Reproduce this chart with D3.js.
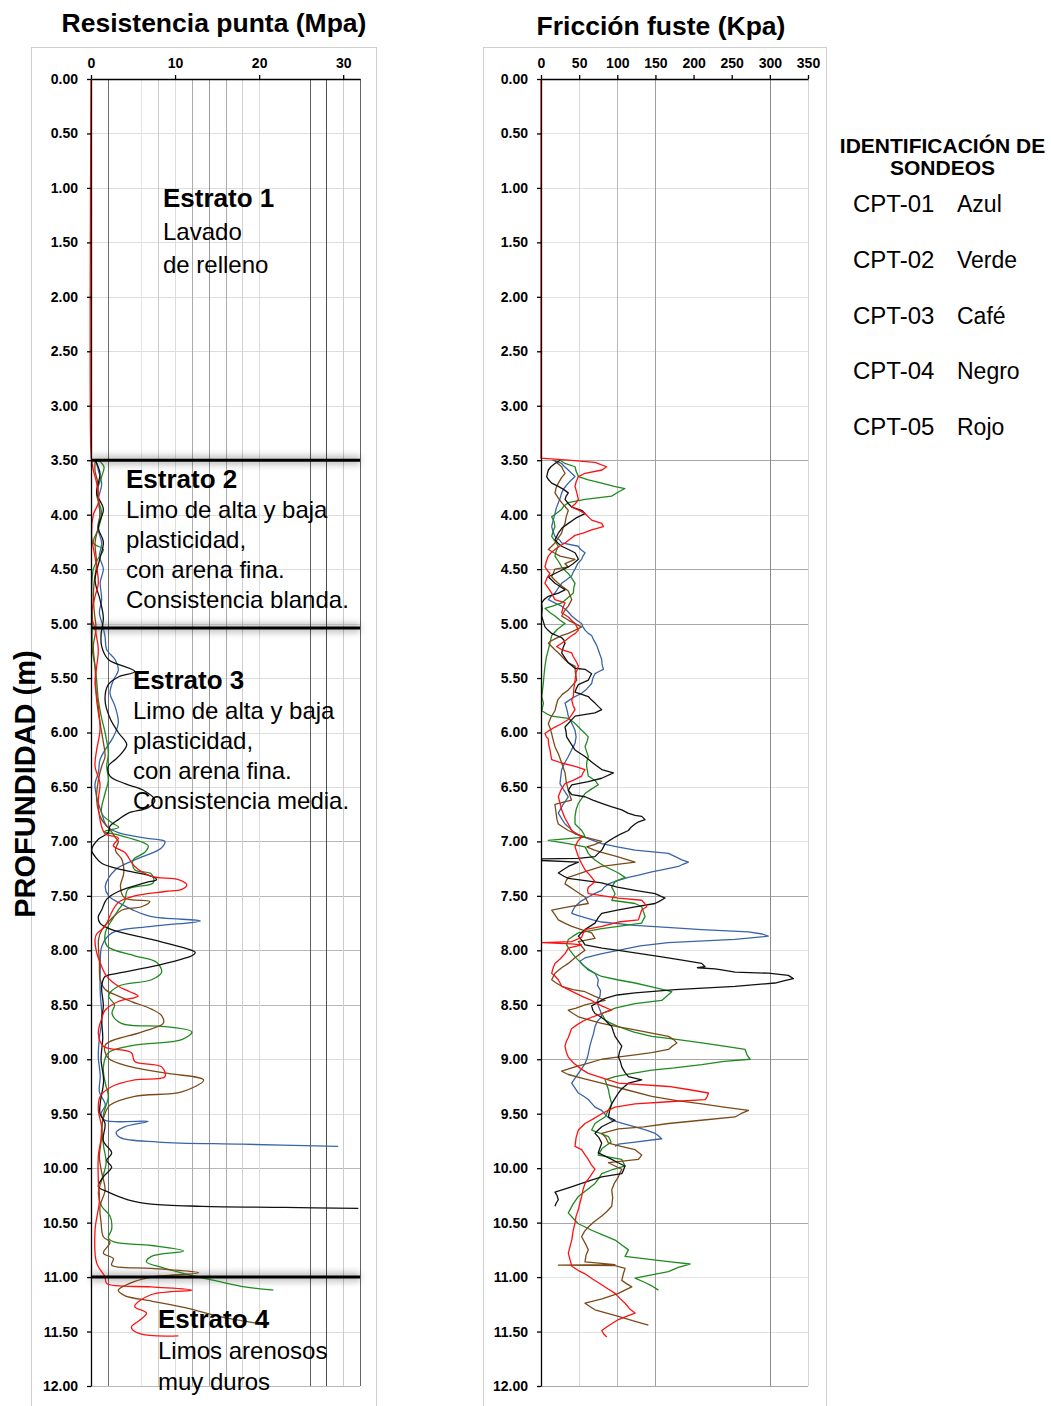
<!DOCTYPE html>
<html>
<head>
<meta charset="utf-8">
<script src="https://cdn.jsdelivr.net/npm/d3@7"></script>
<style>
  html, body { margin: 0; padding: 0; background: #fff; }
  svg { display: block; font-family: "Liberation Sans", Arial, Helvetica, sans-serif; }
</style>
</head>
<body>
<svg id="chart" width="1051" height="1406"></svg>
<script>
// ---------------- data ----------------
// depth ticks (m) and value-axis ticks
const depthTicks = d3.range(0, 12.001, 0.5);
const qcTicks = [0, 10, 20, 30];
const fsTicks = [0, 50, 100, 150, 200, 250, 300, 350];

// soundings and their colour names
const sondeos = ["CPT-01", "CPT-02", "CPT-03", "CPT-04", "CPT-05"];
const nombresColor = ["Azul", "Verde", "Café", "Negro", "Rojo"];

// stratum boundaries (m) and descriptions
const limitesEstrato = [3.5, 5.04, 11.0];
const titulosEstrato = ["Estrato 1", "Estrato 2", "Estrato 3", "Estrato 4"];
const textosEstrato = [
  ["Lavado", "de relleno"],
  ["Limo de alta y baja", "plasticidad,", "con arena fina.", "Consistencia blanda."],
  ["Limo de alta y baja", "plasticidad,", "con arena fina.", "Consistencia media."],
  ["Limos arenosos", "muy duros"]
];

// cone tip resistance qc (MPa) : [depth m, value]
const qcAzul = [[3.50,0.6],[3.60,0.9],[3.72,1.27],[3.85,0.9],[4.00,1.07],[4.12,0.8],[4.26,1.27],[4.38,1.0],[4.50,1.47],[4.62,1.1],[4.78,1.27],[4.90,1.0],[5.02,1.4],[5.12,1.67],[5.24,1.87],[5.33,2.86],[5.43,3.25],[5.52,2.66],[5.64,2.26],[5.76,2.86],[5.91,3.25],[6.04,2.66],[6.16,1.67],[6.25,1.07],[6.37,0.87],[6.47,0.48],[6.59,0.67],[6.74,1.27],[6.86,1.87],[6.92,3.25],[6.97,6.5],[7.00,8.8],[7.04,8.6],[7.08,8.0],[7.17,5.2],[7.26,2.9],[7.41,1.7],[7.50,2.1],[7.56,3.25],[7.63,5.0],[7.69,7.2],[7.73,13.0],[7.78,7.2],[7.84,2.5],[7.96,1.3],[8.18,1.1],[8.39,1.1],[8.63,1.3],[8.80,1.0],[8.98,0.87],[9.15,1.1],[9.30,1.0],[9.42,1.7],[9.50,1.2],[9.56,1.67],[9.57,6.8],[9.62,4.0],[9.67,3.0],[9.72,3.5],[9.76,8.0],[9.78,18.0],[9.80,29.4]];
const qcVerde = [[3.50,0.9],[3.56,1.54],[3.65,1.27],[3.81,0.67],[3.98,1.27],[4.13,0.87],[4.26,0.28],[4.32,1.47],[4.40,0.87],[4.50,0.28],[4.69,0.08],[4.94,0.16],[5.24,0.16],[5.40,0.5],[5.52,0.67],[5.70,0.87],[5.87,1.27],[6.00,1.67],[6.19,2.06],[6.31,1.87],[6.44,2.06],[6.56,1.67],[6.74,1.27],[6.83,2.5],[6.87,3.3],[6.91,1.6],[6.94,3.2],[7.04,6.8],[7.10,6.4],[7.17,5.0],[7.26,5.2],[7.30,7.2],[7.38,7.4],[7.44,4.4],[7.55,4.0],[7.63,3.25],[7.72,2.5],[7.84,1.7],[7.96,1.9],[8.05,5.2],[8.11,7.8],[8.20,8.4],[8.27,7.2],[8.33,3.25],[8.42,2.1],[8.50,2.8],[8.58,2.5],[8.67,3.6],[8.70,8.8],[8.75,12.0],[8.82,10.8],[8.87,5.2],[8.94,2.06],[9.07,1.47],[9.22,1.7],[9.34,2.06],[9.50,1.5],[9.65,1.3],[9.80,1.5],[9.95,1.8],[10.11,1.27],[10.23,0.87],[10.35,1.27],[10.44,2.26],[10.56,2.46],[10.64,2.06],[10.68,2.86],[10.71,7.2],[10.76,11.0],[10.81,7.2],[10.86,6.6],[10.91,8.4],[10.97,11.2],[11.04,15.2],[11.09,18.3],[11.12,21.7]];
const qcCafe = [[3.50,0.5],[3.60,0.48],[3.70,0.8],[3.85,0.87],[4.00,1.07],[4.10,0.9],[4.26,0.48],[4.45,0.67],[4.60,0.4],[4.75,0.28],[4.90,0.4],[5.05,0.6],[5.20,0.28],[5.40,0.48],[5.70,0.67],[5.91,1.07],[6.09,1.47],[6.22,1.67],[6.31,1.27],[6.44,0.87],[6.62,0.67],[6.80,1.27],[6.89,2.26],[6.96,2.86],[7.00,3.25],[7.08,2.9],[7.17,3.7],[7.29,3.9],[7.41,3.5],[7.52,4.0],[7.55,7.0],[7.60,6.0],[7.63,3.7],[7.72,2.3],[7.81,1.3],[7.90,0.9],[8.10,1.0],[8.27,1.1],[8.36,1.7],[8.42,3.25],[8.47,4.8],[8.54,7.2],[8.60,8.4],[8.67,8.6],[8.75,6.0],[8.87,1.7],[8.99,2.06],[9.07,4.8],[9.13,9.2],[9.19,13.4],[9.30,10.8],[9.34,5.2],[9.42,2.26],[9.49,1.7],[9.60,1.3],[9.75,1.2],[9.90,1.0],[10.05,1.3],[10.20,1.67],[10.35,1.07],[10.50,1.2],[10.63,1.47],[10.68,2.26],[10.78,1.47],[10.83,2.66],[10.89,2.46],[10.92,7.2],[10.96,12.8],[11.00,7.2],[11.04,5.2],[11.12,3.25],[11.17,4.0],[11.22,7.2],[11.28,11.2],[11.36,15.2],[11.44,21.0]];
const qcNegro = [[3.50,0.48],[3.62,1.07],[3.80,0.67],[3.95,1.47],[4.12,0.87],[4.25,1.47],[4.40,1.07],[4.60,0.48],[4.78,1.07],[4.95,1.47],[5.10,1.2],[5.21,1.27],[5.33,2.06],[5.44,5.2],[5.49,3.25],[5.56,2.06],[5.70,1.67],[5.87,2.26],[6.00,3.25],[6.11,4.25],[6.19,3.65],[6.25,2.86],[6.31,2.06],[6.40,2.26],[6.47,4.05],[6.53,6.23],[6.62,7.6],[6.69,6.8],[6.74,4.44],[6.80,3.25],[6.86,2.26],[6.92,2.06],[6.98,0.87],[7.08,0.08],[7.14,0.5],[7.20,1.27],[7.26,3.65],[7.32,7.2],[7.35,7.8],[7.38,6.4],[7.46,3.25],[7.53,1.87],[7.63,1.27],[7.69,0.87],[7.75,1.07],[7.81,2.46],[7.90,7.2],[7.98,11.2],[8.02,12.4],[8.05,12.0],[8.08,10.8],[8.15,7.2],[8.21,3.25],[8.24,1.67],[8.33,1.27],[8.51,1.47],[8.63,1.27],[8.80,1.4],[9.00,1.2],[9.20,1.5],[9.40,1.1],[9.50,1.07],[9.59,1.67],[9.75,1.47],[9.86,2.46],[9.93,1.87],[9.99,2.46],[10.08,1.47],[10.17,0.87],[10.22,2.06],[10.29,4.4],[10.33,7.2],[10.35,13.2],[10.36,23.1],[10.37,31.8]];
const qcRojo = [[0,0],[3.45,0],[3.50,0.08],[3.60,0.3],[3.71,0.67],[3.89,0.87],[4.00,0.28],[4.20,0.08],[4.39,0.48],[4.63,0.87],[4.75,0.48],[4.93,0.08],[5.05,0.48],[5.24,0.87],[5.40,0.67],[5.55,0.48],[5.76,0.87],[5.98,1.07],[6.16,0.67],[6.31,0.48],[6.47,1.07],[6.62,0.87],[6.80,1.07],[6.93,1.67],[6.97,3.25],[7.04,2.66],[7.10,4.0],[7.23,5.2],[7.32,7.2],[7.35,10.4],[7.40,11.4],[7.44,10.8],[7.46,8.8],[7.50,5.2],[7.56,3.25],[7.65,2.46],[7.78,1.67],[7.85,0.67],[7.90,0.48],[8.02,0.67],[8.11,1.07],[8.24,1.87],[8.33,3.25],[8.38,4.6],[8.42,5.6],[8.47,3.25],[8.55,1.67],[8.62,1.3],[8.76,0.87],[8.88,1.47],[8.94,4.8],[9.02,5.2],[9.07,8.4],[9.16,8.8],[9.19,5.2],[9.25,2.5],[9.34,1.1],[9.46,0.87],[9.65,1.3],[9.89,0.87],[10.11,0.87],[10.30,1.0],[10.57,0.48],[10.87,0.67],[11.00,1.67],[11.06,1.87],[11.09,7.2],[11.12,12.0],[11.16,7.2],[11.27,5.2],[11.33,6.6],[11.39,5.9],[11.46,4.8],[11.52,5.8],[11.54,10.4]];

// sleeve friction fs (kPa) : [depth m, value]
const fsAzul = [[3.50,15],[3.53,27],[3.56,31],[3.59,35.8],[3.62,40],[3.65,44.6],[3.68,40],[3.71,35.8],[3.76,30],[3.80,27.1],[3.85,25],[3.89,22.7],[3.94,20],[4.00,18],[4.05,16],[4.11,14],[4.16,16],[4.20,18.3],[4.23,24],[4.26,27.1],[4.29,49],[4.32,52],[4.35,57.7],[4.38,55],[4.41,53.3],[4.45,48],[4.50,44.6],[4.53,42],[4.56,40.3],[4.60,33],[4.63,27.1],[4.68,22],[4.72,18.3],[4.75,13],[4.78,9.6],[4.81,18],[4.84,27.1],[4.88,34],[4.93,40.3],[4.97,47],[5.00,53.3],[5.03,55],[5.06,57.7],[5.09,62],[5.11,66.4],[5.15,69],[5.20,73],[5.24,75.1],[5.28,77],[5.33,79.6],[5.37,80],[5.42,81.8],[5.44,76],[5.46,70.8],[5.50,68],[5.55,66.4],[5.60,60],[5.64,53.3],[5.68,42],[5.73,31.5],[5.79,34],[5.85,35.8],[5.91,40],[5.98,44.6],[6.04,46],[6.10,44.6],[6.16,40],[6.22,35.8],[6.28,31],[6.34,27.1],[6.40,26],[6.47,24.9],[6.53,30],[6.59,35.8],[6.66,29],[6.74,22.7],[6.79,27],[6.84,31.5],[6.88,38],[6.93,44.6],[6.97,60],[7.02,79.6],[7.05,100],[7.08,123.3],[7.11,167.1],[7.14,176],[7.17,184.6],[7.19,193.3],[7.21,186],[7.23,180.2],[7.26,160],[7.28,145.2],[7.31,128],[7.33,114.6],[7.36,100],[7.39,88.4],[7.42,83],[7.45,79.6],[7.48,70],[7.51,62],[7.55,52],[7.60,44.6],[7.63,42],[7.66,40.3],[7.68,48],[7.70,57.7],[7.72,68],[7.74,79.6],[7.77,123.3],[7.79,165],[7.81,210.6],[7.83,271.7],[7.85,290],[7.87,297.9],[7.90,254],[7.93,166.7],[7.96,130],[8.00,101.2],[8.03,80],[8.07,57.6],[8.10,51],[8.13,54],[8.15,57.7],[8.18,64],[8.21,70.8],[8.24,73],[8.27,75.1],[8.32,74],[8.37,78],[8.42,77.3],[8.46,74],[8.51,75.1],[8.56,78],[8.61,79.6],[8.65,74],[8.70,70.8],[8.76,69],[8.82,66.4],[8.88,64],[8.95,62],[9.00,60],[9.04,57.7],[9.09,53],[9.13,49],[9.18,44],[9.22,40.3],[9.27,45],[9.31,49],[9.34,56],[9.37,62],[9.41,67],[9.44,70.8],[9.47,79.6],[9.52,86],[9.56,92.7],[9.59,108],[9.62,123.3],[9.65,138],[9.68,149.5],[9.71,155],[9.73,158.2],[9.76,123.3],[9.78,101.5],[9.80,97]];
const fsVerde = [[3.50,25],[3.53,31.5],[3.56,44.6],[3.60,46],[3.65,49],[3.68,62],[3.71,79.6],[3.74,96],[3.76,110],[3.79,102],[3.83,92.5],[3.86,57.7],[3.89,35.8],[3.92,30],[3.95,27.1],[3.99,20],[4.02,14],[4.06,17],[4.11,18.3],[4.15,16],[4.20,14],[4.25,19],[4.29,22.7],[4.33,20],[4.38,18.3],[4.43,23],[4.48,27.1],[4.51,31],[4.54,35.8],[4.58,40],[4.63,44.6],[4.67,43],[4.72,42.4],[4.77,34],[4.81,27.1],[4.84,15],[4.86,5.2],[4.90,12],[4.93,18.3],[4.97,25],[5.00,31.5],[5.05,22],[5.11,14],[5.17,12],[5.24,9.6],[5.31,7],[5.39,5.2],[5.47,4],[5.55,3],[5.61,2],[5.67,1],[5.73,3.2],[5.77,2],[5.80,1],[5.83,8],[5.85,14],[5.87,35.8],[5.92,45],[5.98,53.3],[6.01,58],[6.04,62],[6.09,60],[6.13,57.7],[6.18,60],[6.22,62],[6.27,60],[6.31,59.8],[6.36,61],[6.40,62],[6.44,70.8],[6.48,75.1],[6.52,66],[6.56,57.7],[6.61,53],[6.65,49],[6.71,46],[6.77,44.6],[6.84,44.6],[6.87,49],[6.90,53.3],[6.93,56],[6.96,57.7],[6.99,9.6],[7.02,35.8],[7.05,57.7],[7.08,60],[7.11,62],[7.14,66],[7.17,70.8],[7.20,77],[7.23,84],[7.26,93],[7.29,101.5],[7.33,110.2],[7.37,97.1],[7.42,92.7],[7.45,95],[7.48,97.1],[7.51,95],[7.54,92.7],[7.57,123.3],[7.60,132],[7.64,134],[7.69,136.4],[7.72,134],[7.75,132],[7.78,101.5],[7.80,79.6],[7.84,49],[7.87,42],[7.90,35.8],[7.95,33.6],[8.00,38],[8.06,44.6],[8.12,53],[8.18,62],[8.21,70],[8.24,79.6],[8.27,100],[8.30,123.3],[8.34,148],[8.38,171.4],[8.42,165],[8.46,158.3],[8.49,123.3],[8.53,97.1],[8.58,79.6],[8.61,82],[8.64,84],[8.67,92],[8.70,101.5],[8.75,122],[8.79,145.2],[8.82,180],[8.85,210.8],[8.88,240],[8.91,267.6],[8.96,270],[9.00,274.1],[9.02,240],[9.05,210.8],[9.08,175],[9.10,145.2],[9.13,120],[9.16,97.1],[9.19,84],[9.23,86],[9.28,88.4],[9.34,90],[9.41,92.7],[9.47,88],[9.53,84],[9.56,77],[9.59,70.8],[9.65,66.4],[9.68,78],[9.71,88.4],[9.76,92],[9.82,80],[9.88,75],[9.92,105.9],[9.98,110.2],[10.01,95],[10.05,79.6],[10.10,75],[10.14,70.8],[10.20,60],[10.26,49],[10.33,42],[10.41,35.8],[10.46,42],[10.51,49],[10.54,58],[10.57,66.4],[10.61,80],[10.66,97.1],[10.70,105],[10.75,114.6],[10.81,110.2],[10.84,145.2],[10.86,170],[10.88,195.4],[10.91,180],[10.95,167.1],[10.98,145],[11.01,123.3],[11.05,136.4],[11.08,145],[11.12,153.9]];
const fsCafe = [[3.50,18],[3.53,22],[3.56,27.1],[3.59,29],[3.62,31.5],[3.66,27],[3.71,22.7],[3.75,20],[3.80,18.3],[3.85,23],[3.89,27.1],[3.93,32],[3.96,35.8],[4.02,33],[4.08,31.5],[4.12,29],[4.17,27],[4.22,22],[4.26,18.3],[4.29,14],[4.32,9.6],[4.35,17],[4.38,25],[4.41,44.6],[4.45,31.5],[4.48,35.8],[4.50,18.3],[4.54,16],[4.57,14],[4.60,18],[4.63,22.7],[4.67,30],[4.70,35.8],[4.74,38],[4.78,40.3],[4.81,38],[4.84,35.8],[4.88,31],[4.93,27.1],[4.97,36],[5.00,44.6],[5.03,53.3],[5.06,45],[5.09,35.8],[5.11,27],[5.14,18.3],[5.16,13],[5.18,9.6],[5.21,14],[5.24,18.3],[5.27,23],[5.30,27.1],[5.33,31],[5.36,35.8],[5.39,44.6],[5.45,45],[5.52,46.8],[5.56,42],[5.61,35.8],[5.65,28],[5.70,22],[5.75,20],[5.80,18.3],[5.86,13],[5.92,9.6],[5.96,12],[6.01,14],[6.07,16],[6.13,18.3],[6.20,23],[6.28,27.1],[6.32,29],[6.37,31.5],[6.45,33],[6.53,35.8],[6.58,38],[6.62,40],[6.66,18.3],[6.70,19],[6.75,20],[6.80,21],[6.84,22.7],[6.87,29],[6.90,35.8],[6.93,46],[6.96,57.7],[7.00,79.6],[7.03,70],[7.05,60],[7.08,70],[7.10,79.6],[7.14,100],[7.19,123.3],[7.21,100],[7.23,79.6],[7.28,57],[7.33,35.8],[7.36,33],[7.39,31.5],[7.42,38],[7.45,44.6],[7.48,51],[7.51,57.7],[7.54,60],[7.57,62],[7.60,35.8],[7.63,14],[7.67,18],[7.72,22.7],[7.75,31],[7.78,40.3],[7.81,53],[7.84,66.4],[7.89,70.8],[7.92,49],[7.96,53],[8.00,57.7],[8.06,46],[8.12,35.8],[8.16,27],[8.21,18.3],[8.27,14],[8.30,20],[8.33,27.1],[8.36,42],[8.38,57.7],[8.42,70],[8.46,84],[8.48,70],[8.50,57.7],[8.53,46],[8.55,35.8],[8.58,42],[8.61,49],[8.64,64],[8.67,79.6],[8.70,100],[8.73,123.3],[8.76,145],[8.79,167.1],[8.82,174],[8.85,178],[8.88,172],[8.91,167.1],[8.94,145],[8.96,123.3],[8.98,100],[9.00,79.6],[9.04,60],[9.07,44.6],[9.11,27.1],[9.14,35.8],[9.18,57],[9.22,79.6],[9.28,112],[9.34,145.2],[9.38,178],[9.41,210.8],[9.44,240],[9.47,272],[9.50,262],[9.53,254.4],[9.56,210],[9.59,167.1],[9.62,135],[9.64,101.5],[9.68,79.6],[9.72,85],[9.77,88.4],[9.80,105],[9.83,123.3],[9.88,132],[9.92,127.7],[9.95,88.4],[9.98,97.1],[10.01,105.9],[10.05,103],[10.08,101.5],[10.14,96],[10.20,92.7],[10.27,94],[10.35,92.7],[10.40,86],[10.44,79.6],[10.49,70],[10.54,62],[10.58,57],[10.63,53.3],[10.69,58],[10.75,62],[10.80,59],[10.86,57.7],[10.885,97],[10.89,22.7],[10.895,97],[10.92,110.2],[10.97,108],[11.03,105.9],[11.06,112],[11.09,119],[11.12,110],[11.15,101.5],[11.20,80],[11.24,57.7],[11.27,64],[11.30,70.8],[11.33,86],[11.36,101.5],[11.40,120],[11.44,140.8]];
const fsNegro = [[3.50,25],[3.53,18.3],[3.56,13],[3.59,9.6],[3.65,7.4],[3.68,10],[3.71,14],[3.74,22.7],[3.77,30],[3.80,35.8],[3.83,33],[3.86,31.5],[3.90,36],[3.93,40.3],[3.96,53.3],[3.99,57.7],[4.03,46],[4.08,35.8],[4.12,28],[4.17,22.7],[4.23,18.3],[4.26,22],[4.29,27.1],[4.32,36],[4.35,44.6],[4.38,47],[4.41,49],[4.45,42],[4.48,35.8],[4.51,27],[4.54,18.3],[4.57,9.6],[4.60,14],[4.63,18.3],[4.66,25],[4.69,31.5],[4.72,22.7],[4.75,9.6],[4.78,4],[4.81,0.9],[4.87,1.5],[4.93,0.9],[4.98,3],[5.03,5.2],[5.06,9],[5.09,14],[5.13,27.1],[5.15,30],[5.18,31.5],[5.22,29],[5.27,27.1],[5.31,31],[5.36,35.8],[5.41,44.6],[5.42,57.7],[5.46,66.4],[5.49,64],[5.52,62],[5.56,49],[5.60,46],[5.63,44.6],[5.67,62],[5.70,66],[5.73,70.8],[5.76,75],[5.79,79.6],[5.82,70.8],[5.85,44.6],[5.90,38],[5.95,31.5],[6.00,33],[6.04,33.6],[6.10,39],[6.16,44.6],[6.19,51],[6.22,57.7],[6.28,68],[6.34,79.6],[6.37,94.9],[6.42,79.6],[6.45,62],[6.48,40.3],[6.53,35.8],[6.57,40.3],[6.59,57.7],[6.62,68],[6.65,79.6],[6.68,92],[6.71,105.9],[6.74,114],[6.76,123.3],[6.77,132],[6.80,136.4],[6.82,128],[6.84,123.3],[6.87,118],[6.90,114.6],[6.93,105],[6.96,97.1],[6.99,90],[7.02,84],[7.05,82],[7.08,79.6],[7.11,75],[7.14,70.8],[7.155,49],[7.16,1],[7.175,1],[7.19,49],[7.23,35.8],[7.26,29],[7.29,22.7],[7.32,30],[7.34,35.8],[7.36,58],[7.38,79.6],[7.42,100],[7.45,123.3],[7.48,149.5],[7.50,156],[7.52,162.6],[7.55,155],[7.57,149.5],[7.60,123.3],[7.63,100],[7.66,79.6],[7.70,75],[7.75,70.8],[7.78,64],[7.81,57.7],[7.84,53],[7.87,49],[7.92,55],[7.95,57.7],[7.98,80],[8.00,101.5],[8.03,130],[8.06,158.3],[8.09,185],[8.12,210.7],[8.15,215],[8.16,205],[8.17,228.1],[8.18,236.9],[8.20,254.4],[8.21,298],[8.23,324.2],[8.26,330.8],[8.28,318],[8.30,306.8],[8.33,254.4],[8.36,175.8],[8.39,123.3],[8.41,100],[8.44,84],[8.48,74],[8.51,66.4],[8.55,68],[8.58,70.8],[8.61,78],[8.64,84],[8.67,88],[8.70,92.7],[8.75,95],[8.79,97.1],[8.84,102],[8.88,105.9],[8.93,103],[8.98,101.5],[9.02,104],[9.07,105.9],[9.12,110],[9.16,114.6],[9.19,132],[9.22,114.6],[9.27,106],[9.31,101.5],[9.36,97],[9.41,92.7],[9.47,90],[9.53,88.4],[9.56,97.1],[9.59,88],[9.62,79.6],[9.65,75],[9.68,70.8],[9.72,76],[9.77,79.6],[9.82,77],[9.86,75],[9.89,84],[9.92,92.7],[9.95,101],[9.98,110.2],[10.02,108],[10.05,105.9],[10.08,79.6],[10.11,66],[10.14,53.3],[10.18,36],[10.22,18.3],[10.25,21],[10.29,22.7],[10.32,20],[10.35,18.3]];
const fsRojo = [[0,0],[3.48,0],[3.50,35.8],[3.52,70.8],[3.56,86],[3.59,80],[3.62,57.7],[3.65,49],[3.70,46],[3.74,44.6],[3.80,47],[3.86,49],[3.90,45],[3.93,40.3],[3.96,50],[3.99,57.7],[4.02,62],[4.05,66.4],[4.08,79.6],[4.11,81.8],[4.14,66.4],[4.17,55],[4.19,44.6],[4.23,37],[4.26,31.5],[4.29,24],[4.32,18.3],[4.35,13],[4.38,9.6],[4.43,7],[4.48,5.2],[4.51,8],[4.54,11.8],[4.58,8],[4.63,5.2],[4.68,10],[4.72,14],[4.75,16],[4.78,18.3],[4.81,31.5],[4.85,29],[4.90,27.1],[4.94,35.8],[4.97,40],[5.00,44.6],[5.03,47],[5.06,49],[5.09,45],[5.11,40.3],[5.15,33],[5.18,27.1],[5.21,20.5],[5.24,27.1],[5.27,40.3],[5.30,42],[5.33,44.6],[5.36,47],[5.39,49],[5.45,46],[5.52,44.6],[5.60,43],[5.67,42.4],[5.70,40.3],[5.75,42],[5.79,44.6],[5.84,40],[5.88,35.8],[5.92,27],[5.95,18.3],[5.98,11],[6.01,5.2],[6.04,7],[6.06,9.6],[6.11,10],[6.16,11.8],[6.21,13],[6.25,14],[6.28,27.1],[6.31,44.6],[6.34,57.7],[6.37,55],[6.40,53.3],[6.44,42],[6.47,31.5],[6.53,26],[6.59,22.7],[6.65,25],[6.71,27.1],[6.78,31],[6.84,35.8],[6.90,40.3],[6.93,47],[6.96,53.3],[7.00,48],[7.05,44.6],[7.10,47],[7.14,49],[7.20,53],[7.26,57.7],[7.31,64],[7.37,70.8],[7.42,62],[7.45,61],[7.48,62],[7.52,101.5],[7.54,132],[7.57,136],[7.60,138.6],[7.63,132],[7.67,130],[7.72,127.7],[7.74,101.5],[7.78,79.6],[7.81,57.7],[7.85,55],[7.88,53.3],[7.92,40.3],[7.93,1],[7.94,40],[7.95,53.3],[7.98,35.8],[8.03,31.5],[8.08,25],[8.12,18.3],[8.16,16],[8.21,14],[8.24,19],[8.27,22.7],[8.30,25],[8.33,27.1],[8.36,36],[8.39,44.6],[8.43,56],[8.46,66.4],[8.49,73],[8.51,79.6],[8.55,92.7],[8.58,79.6],[8.61,68],[8.64,57.7],[8.68,48],[8.72,40],[8.80,35.8],[8.84,33],[8.88,31.5],[8.93,33],[8.98,35.8],[9.03,42],[9.07,49],[9.10,55],[9.13,62],[9.17,80],[9.22,101.5],[9.25,167.1],[9.28,195],[9.31,219.5],[9.34,218],[9.37,215.2],[9.39,167.1],[9.41,123.3],[9.44,97.1],[9.47,88],[9.50,79.6],[9.55,68],[9.59,57.7],[9.65,49],[9.72,46],[9.80,44.6],[9.83,53.3],[9.88,58],[9.92,62],[9.97,66],[10.01,70.8],[10.08,64],[10.14,57.7],[10.20,55],[10.26,53.3],[10.32,51],[10.38,49],[10.44,46],[10.50,44.6],[10.58,42],[10.66,40.3],[10.72,38],[10.78,35.8],[10.84,38],[10.90,40.3],[10.94,49],[10.97,57.7],[11.02,68],[11.07,79.6],[11.11,88],[11.15,97.1],[11.20,104],[11.24,110.2],[11.29,116],[11.33,123.3],[11.36,112],[11.39,101.5],[11.44,90],[11.49,79.6],[11.52,82],[11.55,86.2]];

// ---------------- drawing ----------------
const svg = d3.select("#chart");
const colores = ["#3a64a8", "#1f8a1f", "#7a4a18", "#111111", "#ff1111"];

const y = d3.scaleLinear().domain([0, 12]).range([79, 1386]);

const defs = svg.append("defs");
defs.append("filter").attr("id", "halo")
  .attr("x", "-5%").attr("y", "-300%").attr("width", "110%").attr("height", "700%")
  .append("feGaussianBlur").attr("stdDeviation", 3);

function drawPanel(cfg) {
  const x = d3.scaleLinear().domain(cfg.domain).range(cfg.range);
  const g = svg.append("g");

  // frame around the panel
  g.append("rect")
    .attr("x", cfg.frame[0] + 0.5).attr("y", 47.5)
    .attr("width", cfg.frame[1] - cfg.frame[0]).attr("height", 1400)
    .attr("fill", "none").attr("stroke", "#cfcfcf").attr("stroke-width", 1);

  // title
  svg.append("text")
    .attr("x", cfg.titlePos[0]).attr("y", cfg.titlePos[1])
    .attr("text-anchor", "middle")
    .attr("font-size", 26.5).attr("font-weight", "bold").attr("fill", "#000")
    .text(cfg.title);

  // horizontal grid
  g.append("g").selectAll("line")
    .data(depthTicks.filter(d => d > 0))
    .join("line")
    .attr("x1", x.range()[0]).attr("x2", x.range()[1])
    .attr("y1", d => Math.round(y(d)) + 0.5).attr("y2", d => Math.round(y(d)) + 0.5)
    .attr("stroke", d => cfg.hDark.includes(d) ? cfg.hDarkColor : cfg.hColor)
    .attr("stroke-width", 1);

  // vertical grid
  g.append("g").selectAll("line")
    .data(cfg.vGrid)
    .join("line")
    .attr("x1", d => Math.round(x(d[0])) + 0.5).attr("x2", d => Math.round(x(d[0])) + 0.5)
    .attr("y1", y(0)).attr("y2", y(12))
    .attr("stroke", d => d[1]).attr("stroke-width", 1);

  // soft shadow under the stratum boundaries (left panel only)
  if (cfg.boundaries) {
    g.append("g").selectAll("rect")
      .data(limitesEstrato)
      .join("rect")
      .attr("x", x(0)).attr("width", x.range()[1] - x(0))
      .attr("y", d => y(d) - 5).attr("height", 10)
      .attr("fill", "#000").attr("opacity", 0.22)
      .attr("filter", "url(#halo)");
  }

  // series
  const line = d3.line()
    .x(d => x(d[1]))
    .y(d => y(d[0]))
    .curve(cfg.curve);
  g.append("g").selectAll("path")
    .data(cfg.series)
    .join("path")
    .attr("d", d => line(d))
    .attr("fill", "none")
    .attr("stroke", (d, i) => colores[i])
    .attr("stroke-width", 1.3)
    .attr("stroke-linejoin", "round");

  if (cfg.boundaries) {
    g.append("g").selectAll("line")
      .data(limitesEstrato)
      .join("line")
      .attr("x1", x(0)).attr("x2", x.range()[1])
      .attr("y1", d => y(d)).attr("y2", d => y(d))
      .attr("stroke", "#000").attr("stroke-width", 3);
  }

  // axes
  const ax = g.append("g").attr("transform", `translate(0,${y(0)})`)
    .call(d3.axisTop(x).tickValues(cfg.ticks).tickSize(4).tickPadding(7).tickSizeOuter(0));
  const ay = g.append("g").attr("transform", `translate(${x(0)},0)`)
    .call(d3.axisLeft(y).tickValues(depthTicks).tickFormat(d3.format(".2f")).tickSize(4).tickPadding(9).tickSizeOuter(0));
  [ax, ay].forEach(a => {
    a.select(".domain").attr("stroke", "#000").attr("stroke-width", 1.3);
    a.selectAll(".tick line").attr("stroke", "#000").attr("stroke-width", 1.3);
    a.selectAll(".tick text")
      .attr("font-family", "Liberation Sans, Arial, sans-serif")
      .attr("font-size", 14).attr("font-weight", "bold").attr("fill", "#000");
  });
  return x;
}

drawPanel({
  domain: [0, 32], range: [91, 360], frame: [31, 376],
  title: "Resistencia punta (Mpa)", titlePos: [214, 32],
  ticks: qcTicks,
  vGrid: [[2, "#6e6e6e"], [6, "#e6e6e6"], [8, "#cccccc"], [10, "#dddddd"], [12, "#ababab"],
          [14, "#9a9a9a"], [16, "#ababab"], [18, "#d0d0d0"], [20, "#dadada"], [26, "#5e5e5e"],
          [28, "#4e4e4e"], [30, "#cccccc"], [32, "#666666"]],
  hColor: "#dedede", hDark: [7, 7.5, 8, 8.5, 10, 12], hDarkColor: "#b8b8b8",
  series: [qcAzul, qcVerde, qcCafe, qcNegro, qcRojo],
  curve: d3.curveCatmullRom.alpha(0.5),
  boundaries: true
});

drawPanel({
  domain: [0, 350], range: [541, 808], frame: [483, 826],
  title: "Fricción fuste (Kpa)", titlePos: [661, 35],
  ticks: fsTicks,
  vGrid: [[50, "#d8d8d8"], [100, "#b8b8b8"], [150, "#9e9e9e"], [300, "#8a8a8a"], [350, "#d4d4d4"]],
  hColor: "#e2e2e2", hDark: [3.5, 4.5, 5, 7.5, 9, 10.5, 12], hDarkColor: "#a8a8a8",
  series: [fsAzul, fsVerde, fsCafe, fsNegro, fsRojo],
  curve: d3.curveLinear,
  boundaries: false
});

// depth axis label
svg.append("text")
  .attr("transform", "translate(35,784) rotate(-90)")
  .attr("text-anchor", "middle")
  .attr("font-size", 29).attr("font-weight", "bold").attr("fill", "#000")
  .text("PROFUNDIDAD (m)");

// stratum descriptions
const posEstrato = [
  { x: 163, y: 207, gap: 33 },
  { x: 126, y: 488, gap: 30 },
  { x: 133, y: 689, gap: 30 },
  { x: 158, y: 1328, gap: 31 }
];
titulosEstrato.forEach((t, i) => {
  const p = posEstrato[i];
  const txt = svg.append("text").attr("font-size", 24).attr("fill", "#000");
  txt.append("tspan").attr("x", p.x).attr("y", p.y)
    .attr("font-weight", "bold").attr("font-size", 26).text(t);
  textosEstrato[i].forEach((l, j) => {
    txt.append("tspan").attr("x", p.x).attr("y", p.y + p.gap * (j + 1)).text(l);
  });
});

// legend
const leg = svg.append("g");
leg.append("text").attr("x", 942.5).attr("y", 152.5).attr("text-anchor", "middle")
  .attr("font-size", 21).attr("font-weight", "bold").text("IDENTIFICACIÓN DE");
leg.append("text").attr("x", 942.5).attr("y", 175).attr("text-anchor", "middle")
  .attr("font-size", 21).attr("font-weight", "bold").text("SONDEOS");
sondeos.forEach((s, i) => {
  leg.append("text").attr("x", 853).attr("y", 212 + i * 55.8).attr("font-size", 24).text(s);
  leg.append("text").attr("x", 957).attr("y", 212 + i * 55.8).attr("font-size", 23).text(nombresColor[i]);
});
</script>
</body>
</html>
